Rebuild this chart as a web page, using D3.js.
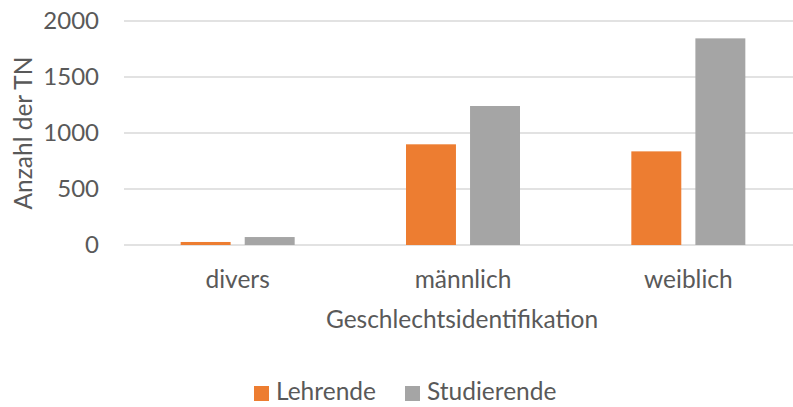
<!DOCTYPE html>
<html>
<head>
<meta charset="utf-8">
<script src="https://cdn.jsdelivr.net/npm/d3@7"></script>
<style>
  body { margin: 0; background: #fff; }
  svg text { font-family: Lato, "Open Sans", sans-serif; fill: #595959; font-size: 24.5px; }
  svg text.tick { font-size: 24px; }
</style>
</head>
<body>
<svg id="chart" width="793" height="407"></svg>
<script>
const categories = ['divers', 'männlich', 'weiblich'];
const seriesNames = ['Lehrende', 'Studierende'];
const lehrende = [27, 899, 836];
const studierende = [71, 1241, 1845];
const yTicks = [0, 500, 1000, 1500, 2000];
const colors = ['#ED7D31', '#A5A5A5'];

const W = 793, H = 407;
const svg = d3.select('#chart');

const x0 = d3.scaleBand().domain(categories).range([125, 801]);
const x1 = d3.scaleBand().domain(seriesNames).range([0, 114]).paddingInner(0.22);
const y = d3.scaleLinear().domain([0, 2000]).range([245, 21]);

// gridlines
svg.append('g').selectAll('line').data(yTicks).join('line')
  .attr('x1', 124).attr('x2', W)
  .attr('y1', d => y(d)).attr('y2', d => y(d))
  .attr('stroke', '#d9d9d9').attr('stroke-width', 1.3);

// y tick labels
svg.append('g').selectAll('text').data(yTicks).join('text')
  .attr('class', 'tick')
  .attr('x', 99).attr('y', d => y(d) + 8)
  .attr('text-anchor', 'end')
  .text(d => d);

// bars
const rows = categories.map((c, i) => ({ cat: c, values: [lehrende[i], studierende[i]] }));
const groups = svg.append('g').selectAll('g').data(rows).join('g')
  .attr('transform', d => `translate(${x0(d.cat) + x0.bandwidth() / 2 - 57},0)`);
groups.selectAll('rect').data(d => d.values.map((v, j) => ({ v, s: seriesNames[j], j })))
  .join('rect')
  .attr('x', d => x1(d.s))
  .attr('width', x1.bandwidth())
  .attr('y', d => y(d.v))
  .attr('height', d => y(0) - y(d.v))
  .attr('fill', d => colors[d.j]);

// category labels
svg.append('g').selectAll('text').data(categories).join('text')
  .attr('x', d => x0(d) + x0.bandwidth() / 2)
  .attr('y', 288)
  .attr('text-anchor', 'middle')
  .text(d => d);

// axis titles
svg.append('text')
  .attr('x', 462).attr('y', 328)
  .attr('text-anchor', 'middle')
  .text('Geschlechtsidentifikation');

svg.append('text')
  .attr('transform', 'translate(32,133) rotate(-90)')
  .attr('text-anchor', 'middle')
  .text('Anzahl der TN');

// legend
const legendX = [254, 405];
const legend = svg.append('g').selectAll('g').data(seriesNames).join('g')
  .attr('transform', (d, i) => `translate(${legendX[i]},386)`);
legend.append('rect').attr('width', 15).attr('height', 15)
  .attr('fill', (d, i) => colors[i]);
legend.append('text').attr('x', 22).attr('y', 14)
  .text(d => d);
</script>
</body>
</html>
